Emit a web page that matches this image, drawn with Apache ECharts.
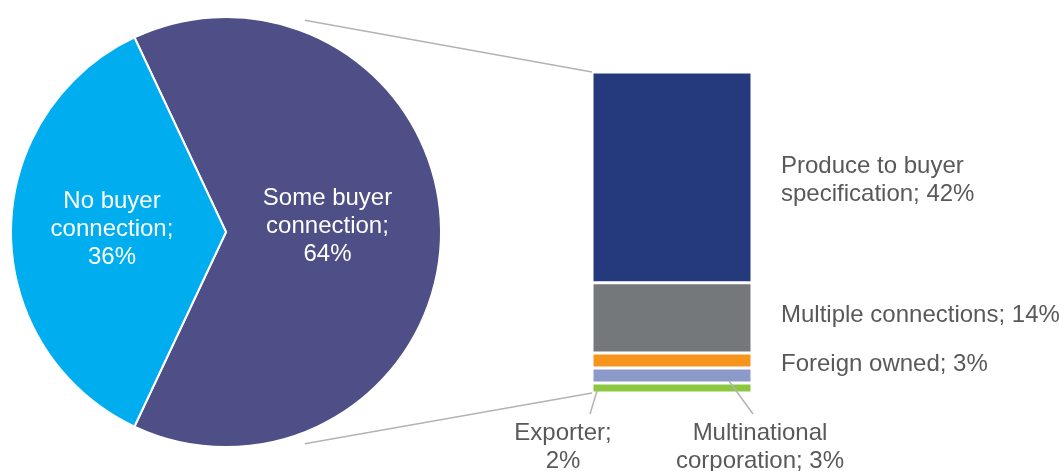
<!DOCTYPE html>
<html>
<head>
<meta charset="utf-8">
<script src="https://cdn.jsdelivr.net/npm/echarts@6/dist/echarts.min.js"></script>
<style>
  html, body { margin: 0; padding: 0; background: #fff; }
  #chart { width: 1059px; height: 471px; }
</style>
</head>
<body>
<div id="chart"></div>
<script>
// Pie: buyer connection split
const pieNames = ['Some buyer\nconnection', 'No buyer\nconnection'];
const pieValues = [64, 36];

// Breakdown bar of "Some buyer connection", stacked bottom to top
const barNames = ['Exporter', 'Multinational\ncorporation', 'Foreign owned', 'Multiple connections', 'Produce to buyer\nspecification'];
const barValues = [2, 3, 3, 14, 42];
const barLabelBreak = [true, false, false, false, false]; // value on its own line

const pieColors = ['#4e4f87', '#00adef'];
const barColors = ['#8dc63f', '#8c9ac9', '#f7941d', '#75787b', '#243a7c'];

const FONT = '"Liberation Sans", Arial, sans-serif';
const TEXT_GRAY = '#595959';
const LINE_GRAY = '#b3b3b3';

const pieCenter = [226, 232];
const pieRadius = 215;
const pieLabelShift = [[-4.5, -3], [-1.75, -1.5]];

const pieTotal = pieValues.reduce((a, b) => a + b, 0);
const barTotal = barValues.reduce((a, b) => a + b, 0);
// keep the smaller slice centred on the left side
const startAngle = 180 - (pieValues[1] / pieTotal) * 180;

const chart = echarts.init(document.getElementById('chart'), null, { renderer: 'canvas' });

// labels beneath the bar: anchor and leader line, relative to the segment rect
const lowerLabel = {
  0: (r) => ({
    x: r.x - 29, y: r.y + r.height + 26,
    line: [[r.x + 5, r.y + r.height - 2], [r.x - 2, r.y + r.height + 21]]
  }),
  1: (r) => ({
    x: r.x + r.width + 8, y: r.y + r.height + 36,
    line: [[r.x + 137, r.y + r.height - 2], [r.x + 161, r.y + r.height + 31]]
  })
};
const rightLabelOffset = { 2: 4, 3: -2, 4: 3 };

const barSeries = barValues.map((v, i) => {
  const s = {
    type: 'bar',
    name: barNames[i],
    stack: 'total',
    barWidth: '100%',
    silent: true,
    data: [v],
    itemStyle: { color: barColors[i], borderColor: '#fff', borderWidth: 1.5 },
    label: {
      show: true,
      position: 'right',
      distance: 29,
      offset: [0, rightLabelOffset[i] || 0],
      color: TEXT_GRAY,
      fontFamily: FONT,
      fontSize: 24,
      lineHeight: 28,
      align: 'left',
      formatter: () => barNames[i] + ';' + (barLabelBreak[i] ? '\n' : ' ') + v + '%'
    }
  };
  if (lowerLabel[i]) {
    s.label.align = 'center';
    s.labelLayout = (params) => {
      const p = lowerLabel[i](params.rect);
      return { x: p.x, y: p.y, align: 'center', verticalAlign: 'top' };
    };
  }
  return s;
});

const option = {
  backgroundColor: '#fff',
  animation: false,
  grid: { left: 592, top: 72, width: 160, height: 321 },
  xAxis: { type: 'category', data: ['Some buyer connection'], show: false },
  yAxis: { type: 'value', min: 0, max: barTotal, show: false },
  series: [
    {
      type: 'pie',
      center: pieCenter,
      radius: pieRadius,
      startAngle: startAngle,
      clockwise: true,
      silent: true,
      data: pieNames.map((n, i) => ({ name: n, value: pieValues[i], itemStyle: { color: pieColors[i] } })),
      itemStyle: { borderColor: '#fff', borderWidth: 2 },
      label: {
        position: 'inner',
        color: '#fff',
        fontFamily: FONT,
        fontSize: 24,
        lineHeight: 28,
        formatter: (p) => p.name + ';\n' + p.value + '%'
      },
      labelLine: { show: false },
      labelLayout: (params) => ({ dx: pieLabelShift[params.dataIndex][0], dy: pieLabelShift[params.dataIndex][1] })
    },
    ...barSeries
  ]
};

chart.setOption(option);

// connector lines from the pie to the bar, plus leader lines for the lower labels
function drawConnectors() {
  const layoutOf = (seriesIndex) => chart.getModel().getSeriesByIndex(seriesIndex).getData().getItemLayout(0);
  const norm = (l) => ({ x: l.x, y: Math.min(l.y, l.y + l.height), width: l.width, height: Math.abs(l.height) });
  const top = norm(layoutOf(barValues.length));
  const bottom = norm(layoutOf(1));
  const barTopY = top.y;
  const barBottomY = bottom.y + bottom.height;
  const ang = 69.6 * Math.PI / 180;
  const d = pieRadius + 11;
  const sx = pieCenter[0] + d * Math.cos(ang);
  const syTop = pieCenter[1] - d * Math.sin(ang);
  const syBot = pieCenter[1] + d * Math.sin(ang);
  const lineStyle = { stroke: LINE_GRAY, lineWidth: 1.5 };
  const graphics = [
    { type: 'line', silent: true, shape: { x1: sx, y1: syTop, x2: top.x, y2: barTopY }, style: lineStyle },
    { type: 'line', silent: true, shape: { x1: sx, y1: syBot, x2: bottom.x, y2: barBottomY }, style: lineStyle }
  ];
  Object.keys(lowerLabel).forEach((k) => {
    const idx = Number(k);
    const r = norm(layoutOf(1 + idx));
    const pts = lowerLabel[idx](r).line;
    graphics.push({
      type: 'polyline', silent: true, z: 10,
      shape: { points: pts },
      style: { stroke: LINE_GRAY, lineWidth: 1.5, fill: null }
    });
  });
  chart.setOption({ graphic: graphics });
}
drawConnectors();
</script>
</body>
</html>
